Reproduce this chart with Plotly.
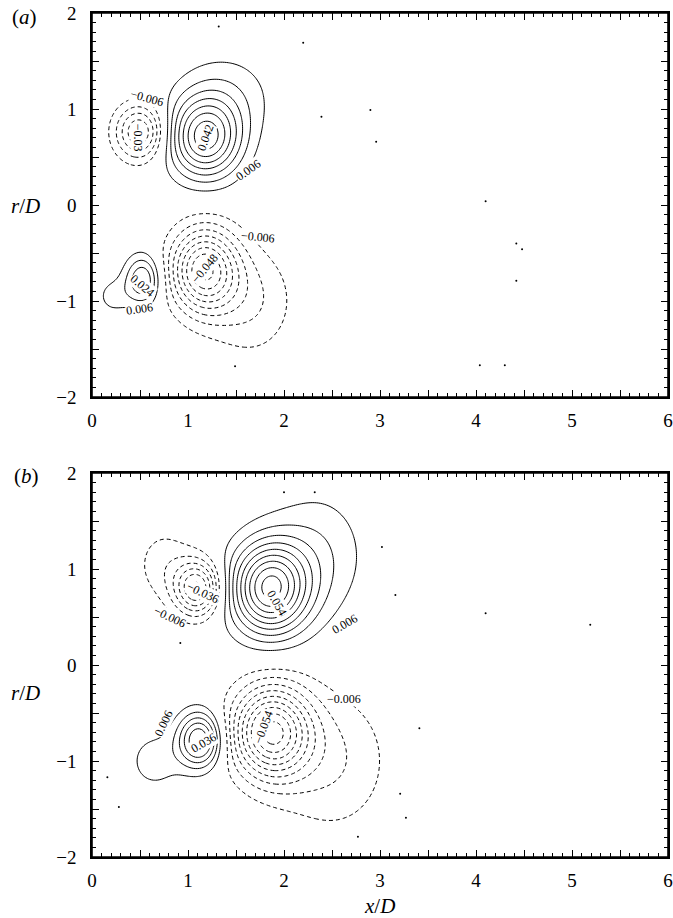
import numpy as np
import plotly.graph_objects as go

# ---- vortex blob parameters (x/D, r/D, peak, widths) ----
# panel (a)
a_x0 = [1.18, 1.40, 0.50, 0.53, 0.22, 1.17, 1.65]
a_r0 = [0.70, 1.15, 0.76, -0.78, -0.95, -0.68, -1.00]
a_amp = [0.044, 0.009, -0.031, 0.025, 0.008, -0.047, -0.012]
a_sx = [0.26, 0.36, 0.18, 0.13, 0.13, 0.24, 0.32]
a_sr = [0.29, 0.32, 0.20, 0.18, 0.14, 0.30, 0.40]
# panel (b)
b_x0 = [1.10, 0.75, 1.85, 2.35, 1.12, 0.65, 1.87, 2.50]
b_r0 = [0.80, 1.05, 0.80, 1.15, -0.78, -1.00, -0.70, -1.00]
b_amp = [-0.037, -0.009, 0.054, 0.011, 0.037, 0.009, -0.054, -0.012]
b_sx = [0.17, 0.22, 0.28, 0.36, 0.16, 0.20, 0.28, 0.42]
b_sr = [0.20, 0.28, 0.33, 0.47, 0.20, 0.22, 0.33, 0.52]

# isolated noise dots seen in the picture
a_dot_x = [2.90, 2.96, 4.10, 4.42, 4.48, 4.42, 4.04, 4.30, 2.39, 2.20, 1.32, 1.49]
a_dot_r = [0.99, 0.66, 0.04, -0.40, -0.46, -0.79, -1.67, -1.67, 0.92, 1.69, 1.86, -1.68]
b_dot_x = [3.02, 3.16, 4.10, 5.19, 3.41, 3.21, 3.27, 2.77, 2.00, 2.32, 0.92, 0.16, 0.28]
b_dot_r = [1.23, 0.73, 0.54, 0.42, -0.66, -1.34, -1.59, -1.79, 1.80, 1.80, 0.23, -1.17, -1.48]

levels_step = 0.006
x_ticks = [0, 1, 2, 3, 4, 5, 6]
r_ticks = [-2, -1, 0, 1, 2]

# contour labels: (text, x, r, angle)
a_labels = [("\u22120.006", 0.57, 1.11, 15), ("\u22120.03", 0.48, 0.70, 90),
            ("0.042", 1.18, 0.70, -70), ("0.006", 1.63, 0.36, -35),
            ("\u22120.006", 1.73, -0.33, 5), ("\u22120.048", 1.18, -0.66, -50),
            ("0.024", 0.53, -0.84, 40), ("0.006", 0.49, -1.08, -8)]
b_labels = [("\u22120.036", 1.16, 0.75, 25), ("\u22120.006", 0.81, 0.50, 25),
            ("0.054", 1.93, 0.65, 60), ("0.006", 2.63, 0.43, -30),
            ("0.006", 0.74, -0.61, -65), ("0.036", 1.16, -0.81, -30),
            ("\u22120.054", 1.79, -0.65, -70), ("\u22120.006", 2.63, -0.35, 0)]

xg = np.linspace(0, 6, 301)
rg = np.linspace(-2, 2, 201)
XX, RR = np.meshgrid(xg, rg)


def field(x0, r0, amp, sx, sr):
    Z = np.zeros_like(XX)
    for a, b, c, d, e in zip(x0, r0, amp, sx, sr):
        Z += c * np.exp(-((XX - a) ** 2) / (2 * d * d) - ((RR - b) ** 2) / (2 * e * e))
    return Z


Za = field(a_x0, a_r0, a_amp, a_sx, a_sr)
Zb = field(b_x0, b_r0, b_amp, b_sx, b_sr)

fig = go.Figure()
black = [[0, "black"], [1, "black"]]
for Z, xa, ya, dx, dr in [(Za, "x", "y", a_dot_x, a_dot_r), (Zb, "x2", "y2", b_dot_x, b_dot_r)]:
    fig.add_trace(go.Contour(x=xg, y=rg, z=Z, xaxis=xa, yaxis=ya,
                             contours=dict(coloring="lines", start=levels_step, end=0.066, size=levels_step),
                             line=dict(width=1, dash="solid"), colorscale=black, showscale=False,
                             hoverinfo="skip"))
    fig.add_trace(go.Contour(x=xg, y=rg, z=Z, xaxis=xa, yaxis=ya,
                             contours=dict(coloring="lines", start=-0.066, end=-levels_step + 1e-5, size=levels_step),
                             line=dict(width=1, dash="4px,3px"), colorscale=black, showscale=False,
                             hoverinfo="skip"))
    fig.add_trace(go.Scatter(x=dx, y=dr, xaxis=xa, yaxis=ya, mode="markers",
                             marker=dict(size=2, color="black"), hoverinfo="skip"))

W, H = 673, 918
xdom = [92 / W, 668 / W]
ya_dom = [1 - 397 / H, 1 - 13 / H]
yb_dom = [1 - 857 / H, 1 - 473 / H]

font_serif = "Liberation Serif, Times New Roman, serif"
xt_vals = [i * 0.5 for i in range(13)]
xt_text = [str(int(v)) if (v == int(v) and int(v) in x_ticks) else "" for v in xt_vals]
yt_vals = [-2 + i * 0.5 for i in range(9)]
yt_text = [("\u2212" + str(abs(int(v))) if v < 0 else str(int(v))) if (v == int(v) and int(v) in r_ticks) else "" for v in yt_vals]


def ax_common(vals, text, rng, standoff):
    return dict(range=rng, showline=True, linewidth=1.6, linecolor="black", mirror="allticks",
                ticks="inside", ticklen=7, tickwidth=1.3, tickcolor="black",
                tickmode="array", tickvals=vals, ticktext=text, automargin=False,
                ticklabelstandoff=standoff,
                minor=dict(dtick=0.1, tick0=0, ticks="inside", ticklen=4, tickwidth=1, tickcolor="black"),
                showgrid=False, zeroline=False, tickfont=dict(family=font_serif, size=19, color="black"),
                fixedrange=True)


fig.update_layout(
    width=W, height=H, margin=dict(l=0, r=0, t=0, b=0, autoexpand=False),
    paper_bgcolor="white", plot_bgcolor="white", showlegend=False,
    xaxis=dict(domain=xdom, anchor="y", **ax_common(xt_vals, xt_text, [0, 6], 5)),
    yaxis=dict(domain=ya_dom, anchor="x", **ax_common(yt_vals, yt_text, [-2, 2], 10)),
    xaxis2=dict(domain=xdom, anchor="y2", **ax_common(xt_vals, xt_text, [0, 6], 5)),
    yaxis2=dict(domain=yb_dom, anchor="x2", **ax_common(yt_vals, yt_text, [-2, 2], 10)),
)

shapes = []
for xr, yr in [("x domain", "y domain"), ("x2 domain", "y2 domain")]:
    shapes.append(dict(type="rect", xref=xr, yref=yr, x0=0, x1=1, y0=0, y1=1,
                       line=dict(color="black", width=1.6), layer="above"))
fig.update_layout(shapes=shapes)

ann = []
for labs, xr, yr in [(a_labels, "x", "y"), (b_labels, "x2", "y2")]:
    for t, x, r, ang in labs:
        ann.append(dict(text=t, x=x, y=r, xref=xr, yref=yr, showarrow=False, textangle=ang,
                        font=dict(family=font_serif, size=12, color="black"),
                        bgcolor="white", borderpad=0))
big = dict(family=font_serif, size=21, color="black")
for t, px, py in [("<i>r</i>/<i>D</i>", 25, 206), ("<i>r</i>/<i>D</i>", 25, 693),
                  ("<i>x</i>/<i>D</i>", 379, 906), ("(<i>a</i>)", 24, 17), ("(<i>b</i>)", 26, 476)]:
    ann.append(dict(text=t, x=px / W, y=1 - py / H, xref="paper", yref="paper", showarrow=False,
                    xanchor="center", yanchor="middle", font=big))
fig.update_layout(annotations=ann)

fig.write_html("out.html", config={"displayModeBar": False},
               post_script="document.body.style.margin='0';document.body.style.overflow='hidden';")
